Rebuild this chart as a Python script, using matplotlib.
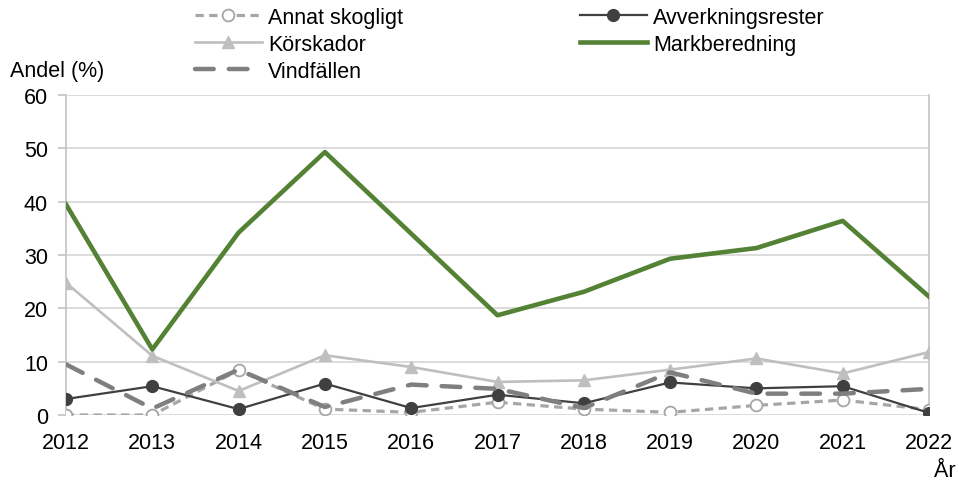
import matplotlib
matplotlib.use("Agg")
import matplotlib.pyplot as plt

plt.rcParams['font.family'] = ['Liberation Sans', 'DejaVu Sans']

years = [2012, 2013, 2014, 2015, 2016, 2017, 2018, 2019, 2020, 2021, 2022]
annat_skogligt = [0.0, 0.0, 8.4, 1.1, 0.5, 2.4, 1.1, 0.5, 1.8, 2.8, 1.0]
korskador = [24.8, 11.1, 4.5, 11.2, 9.0, 6.2, 6.5, 8.5, 10.6, 7.8, 11.8]
vindfallen = [9.5, 1.2, 8.5, 1.5, 5.7, 4.9, 1.3, 8.0, 4.0, 4.0, 4.9]
avverkningsrester = [3.0, 5.4, 1.1, 5.9, 1.3, 3.8, 2.2, 6.1, 5.0, 5.4, 0.4]
markberedning = [39.5, 12.3, 34.2, 49.3, 34.0, 18.7, 23.1, 29.3, 31.3, 36.4, 22.2]
yticks = [0, 10, 20, 30, 40, 50, 60]

c_green = '#548235'
c_dark = '#404040'
c_light = '#bfbfbf'
c_annat = '#a6a6a6'
c_vind = '#7f7f7f'
FS = 15.5

fig = plt.figure(figsize=(9.59, 4.81), dpi=100)
ax = fig.add_axes([66/959, 1-416/481, (929-66)/959, (416-96)/481])

l_annat, = ax.plot(years, annat_skogligt, color=c_annat, lw=2.3, ls=(0, (2.6, 1.7)),
                   marker='o', ms=8.5, mfc='white', mec=c_annat, mew=1.3, zorder=3,
                   label='Annat skogligt')
l_kor, = ax.plot(years, korskador, color=c_light, lw=1.9, marker='^', ms=8.5,
                 mfc=c_light, mec=c_light, zorder=4, label='Körskador')
l_avv, = ax.plot(years, avverkningsrester, color=c_dark, lw=1.6, marker='o', ms=8.5,
                 mfc=c_dark, mec=c_dark, zorder=5, label='Avverkningsrester')
l_vind, = ax.plot(years, vindfallen, color=c_vind, lw=3.2, ls=(0, (4.2, 3.4)),
                  dash_capstyle='round', zorder=6, label='Vindfällen')
l_mark, = ax.plot(years, markberedning, color=c_green, lw=3.3, zorder=7,
                  label='Markberedning')

ax.set_xlim(2012, 2022)
ax.set_ylim(0, 60)
ax.set_xticks(years)
ax.set_xticklabels([str(y) for y in years], fontsize=FS)
ax.set_yticks(yticks)
ax.set_yticklabels([str(v) for v in yticks], fontsize=FS)
ax.grid(axis='y', color='#d9d9d9', lw=1.3, zorder=0)
ax.set_axisbelow(True)
for s in ['top', 'bottom']:
    ax.spines[s].set_visible(False)
for s in ['left', 'right']:
    ax.spines[s].set_color('#c8c8c8')
    ax.spines[s].set_linewidth(1.3)
ax.tick_params(axis='y', length=6, width=1.3, color='#c8c8c8', pad=7)
ax.tick_params(axis='x', length=0, pad=12)

common = dict(loc='upper left', frameon=False, fontsize=FS, handlelength=3.1,
              handletextpad=0.3, labelspacing=0.27, borderaxespad=0, borderpad=0)
leg1 = fig.legend(handles=[l_annat, l_kor, l_vind],
                  bbox_to_anchor=(195/959, 1-8/481), **common)
leg2 = fig.legend(handles=[l_avv, l_mark],
                  bbox_to_anchor=(580/959, 1-8/481), **common)

fig.text(10/959, 1-71/481, 'Andel (%)', fontsize=FS, va='center', ha='left')
fig.text(956/959, 1-472/481, 'År', fontsize=FS, va='center', ha='right')

fig.savefig('out.png', dpi=100)
